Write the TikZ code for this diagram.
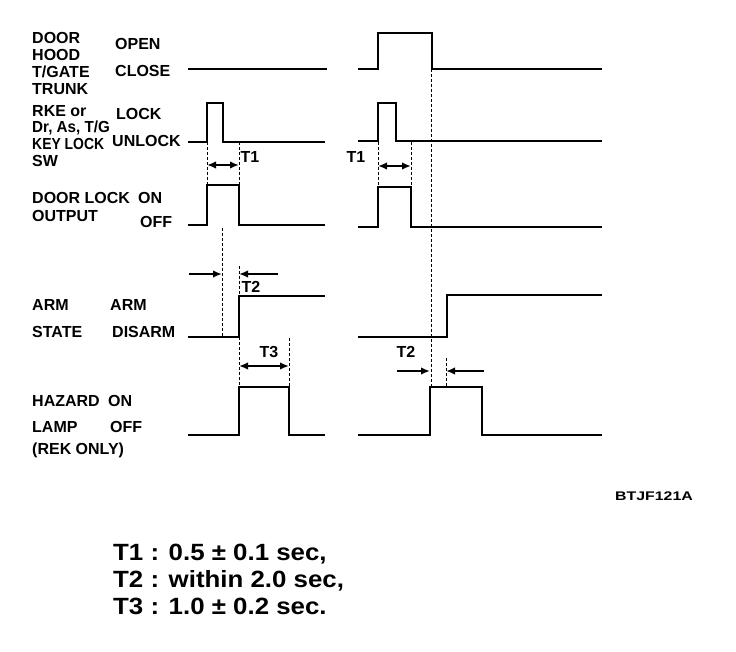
\documentclass[tikz,border=0pt]{standalone}
\usepackage{fontspec}
\setmainfont{Liberation Sans}
\usetikzlibrary{arrows.meta}
\begin{document}
\begin{tikzpicture}[x=1pt,y=-1pt,
  sig/.style={line width=2.8pt, line join=miter, line cap=butt},
  guide/.style={line width=0.9pt, dash pattern=on 3pt off 2pt},
  tarrow/.style={line width=1.8pt, -{Latex[length=9pt,width=7.5pt]}},
  tdarrow/.style={line width=1.8pt, {Latex[length=9pt,width=7.5pt]}-{Latex[length=9pt,width=7.5pt]}},
  lbl/.style={anchor=base west, inner sep=0pt, font=\fontsize{16}{17}\selectfont\bfseries},
  tlab/.style={anchor=center, inner sep=0pt, font=\fontsize{16}{17}\selectfont\bfseries},
  note/.style={anchor=base west, inner sep=0pt, font=\fontsize{23.5}{27}\selectfont\bfseries}
]
\useasboundingbox (0,0) rectangle (736,652);

% ---- signal labels ----
\node[lbl] (l1a) at (32,44) {DOOR};
\node[lbl] (l1b) at (32,61) {HOOD};
\node[lbl] (l1c) at (32,78) {T/GATE};
\node[lbl] (l1d) at (32,95) {TRUNK};
\node[lbl] (s1a) at (115,50) {OPEN};
\node[lbl] (s1b) at (115,77) {CLOSE};

\node[lbl] (l2a) at (32,117) {RKE or};
\node[lbl] (l2b) at (32,133) {\scalebox{0.95}[1]{Dr, As, T/G}};
\node[lbl] (l2c) at (32,150) {\scalebox{0.87}[1]{KEY LOCK}};
\node[lbl] (l2d) at (32,167) {SW};
\node[lbl] (s2a) at (116,120) {LOCK};
\node[lbl] (s2b) at (112,147) {UNLOCK};

\node[lbl] (l3a) at (32,204) {DOOR LOCK};
\node[lbl] (l3b) at (32,222) {OUTPUT};
\node[lbl] (s3a) at (138,204) {ON};
\node[lbl] (s3b) at (140,228) {OFF};

\node[lbl] (l4a) at (32,310) {ARM};
\node[lbl] (l4b) at (32,337) {STATE};
\node[lbl] (s4a) at (110,310) {ARM};
\node[lbl] (s4b) at (112,337) {DISARM};

\node[lbl] (l5a) at (32,406) {HAZARD};
\node[lbl] (l5b) at (32,432) {LAMP};
\node[lbl] (l5c) at (32,454) {(REK ONLY)};
\node[lbl] (s5a) at (108,406) {ON};
\node[lbl] (s5b) at (110,432) {OFF};

% ---- waveforms ----
\draw[sig] (188,69) -- (327,69);
\draw[sig] (358,69) -- (378,69) -- (378,33) -- (432,33) -- (432,69) -- (602,69);

\draw[sig] (188,142) -- (207,142) -- (207,103) -- (223,103) -- (223,142) -- (325,142);
\draw[sig] (358,141) -- (378,141) -- (378,103) -- (396,103) -- (396,141) -- (602,141);

\draw[sig] (188,225) -- (207,225) -- (207,185) -- (239,185) -- (239,225) -- (325,225);
\draw[sig] (358,227) -- (378,227) -- (378,187) -- (411,187) -- (411,227) -- (602,227);

\draw[sig] (188,337) -- (239,337) -- (239,296) -- (325,296);
\draw[sig] (358,337) -- (447,337) -- (447,295) -- (602,295);

\draw[sig] (188,435) -- (239,435) -- (239,387) -- (289,387) -- (289,435) -- (325,435);
\draw[sig] (358,435) -- (430,435) -- (430,387) -- (482,387) -- (482,435) -- (602,435);

% ---- dotted guides ----
\draw[guide] (207,142) -- (207,185);
\draw[guide] (239,142) -- (239,185);
\draw[guide] (222,228) -- (222,337);
\draw[guide] (239,266) -- (239,296);
\draw[guide] (239,337) -- (239,387);
\draw[guide] (289,338) -- (289,387);
\draw[guide] (378,142) -- (378,187);
\draw[guide] (411,142) -- (411,187);
\draw[guide] (431,69) -- (431,387);
\draw[guide] (446,358) -- (446,387);

% ---- timing arrows ----
\coordinate (t1la) at (207,165); \coordinate (t1lb) at (239,165);
\coordinate (t1ra) at (378,166); \coordinate (t1rb) at (411,166);
\coordinate (t2la) at (189,274); \coordinate (t2lb) at (222,274);
\coordinate (t2lc) at (278,274); \coordinate (t2ld) at (239,274);
\coordinate (t3a) at (239,366); \coordinate (t3b) at (289,366);
\coordinate (t2ra) at (397,371); \coordinate (t2rb) at (430,371);
\coordinate (t2rc) at (484,371); \coordinate (t2rd) at (446,371);

\draw[tdarrow] (t1la) -- (t1lb);
\draw[tdarrow] (t1ra) -- (t1rb);
\draw[tarrow] (t2la) -- (t2lb);
\draw[tarrow] (t2lc) -- (t2ld);
\draw[tdarrow] (t3a) -- (t3b);
\draw[tarrow] (t2ra) -- (t2rb);
\draw[tarrow] (t2rc) -- (t2rd);

\node[tlab] (T1l) at (250,157) {T1};
\node[tlab] (T1r) at (356,157) {T1};
\node[tlab] (T2l) at (251,287) {T2};
\node[tlab] (T3l) at (269,352) {T3};
\node[tlab] (T2r) at (406,352) {T2};

% ---- figure code and notes ----
\node[anchor=center, inner sep=0pt, font=\fontsize{12.5}{14}\selectfont\bfseries] (code) at (654,496) {\scalebox{1.27}[1]{BTJF121A}};

\node[note] (n1) at (113,560) {\scalebox{1.1}[1]{T1 : 0.5 ± 0.1 sec,}};
\node[note] (n2) at (113,587) {\scalebox{1.1}[1]{T2 : within 2.0 sec,}};
\node[note] (n3) at (113,614) {\scalebox{1.1}[1]{T3 : 1.0 ± 0.2 sec.}};
\end{tikzpicture}
\end{document}
